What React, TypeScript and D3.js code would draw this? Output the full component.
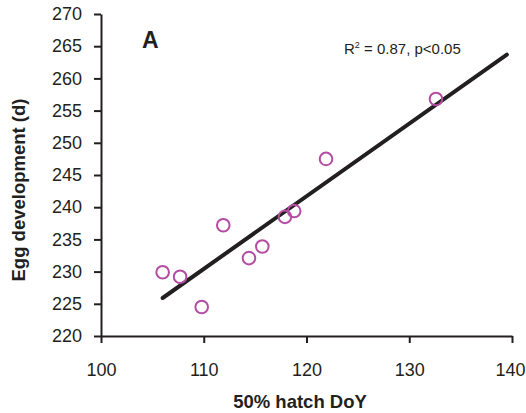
import { useEffect, useRef } from "react";
import * as d3 from "d3";

// hatch day-of-year vs egg development time
const hatchDoY = [106.0, 107.7, 109.8, 111.9, 114.4, 115.7, 117.9, 118.8, 121.9, 132.6];
const eggDev = [229.9, 229.2, 224.5, 237.2, 232.1, 233.9, 238.5, 239.4, 247.5, 256.8];

// fitted regression line end points
const fitX = [106.0, 139.5];
const fitY = [225.9, 263.7];

const xTicks = [100, 110, 120, 130, 140];
const yTicks = [220, 225, 230, 235, 240, 245, 250, 255, 260, 265, 270];

const width = 526;
const height = 413;
const ink = "#231f20";
const font = "'Liberation Sans', Arial, sans-serif";

export default function App() {
  const ref = useRef<SVGSVGElement>(null);

  useEffect(() => {
    const svg = d3.select(ref.current);
    svg.selectAll("*").remove();

    const x = d3.scaleLinear().domain([100, 140]).range([101, 512]);
    const y = d3.scaleLinear().domain([220, 270]).range([336, 14]);

    const xAxis = svg.append("g")
      .attr("transform", `translate(0,${y(220)})`)
      .call(d3.axisBottom(x).tickValues(xTicks).tickSize(7).tickSizeOuter(0).tickPadding(20));
    const yAxis = svg.append("g")
      .attr("transform", `translate(${x(100)},0)`)
      .call(d3.axisLeft(y).tickValues(yTicks).tickSize(7).tickSizeOuter(0).tickPadding(12));

    [xAxis, yAxis].forEach(g => {
      g.selectAll("path, line").attr("stroke", ink).attr("stroke-width", 2);
      g.selectAll("text")
        .attr("fill", ink)
        .style("font-family", font)
        .style("font-size", "18px");
    });

    // keep the last x label inside the page
    xAxis.selectAll<SVGTextElement, number>("text")
      .filter(d => d === 140)
      .attr("text-anchor", "end")
      .attr("x", width - 1 - x(140));

    // regression line
    const line = d3.line<number>()
      .x(d => x(fitX[d]))
      .y(d => y(fitY[d]));
    svg.append("path")
      .attr("d", line([0, 1]))
      .attr("fill", "none")
      .attr("stroke", ink)
      .attr("stroke-width", 4)
      .attr("stroke-linecap", "round");

    // points
    svg.selectAll("circle")
      .data(hatchDoY)
      .enter().append("circle")
      .attr("cx", d => x(d))
      .attr("cy", (_, i) => y(eggDev[i]))
      .attr("r", 6.3)
      .attr("fill", "none")
      .attr("stroke", "#b44ca3")
      .attr("stroke-width", 2);

    // panel label
    svg.append("text")
      .attr("x", 142)
      .attr("y", 48)
      .attr("fill", ink)
      .style("font-family", font)
      .style("font-weight", "bold")
      .style("font-size", "23px")
      .text("A");

    // statistics annotation
    const stat = svg.append("text")
      .attr("x", 344)
      .attr("y", 54)
      .attr("fill", ink)
      .style("font-family", font)
      .style("font-size", "15px");
    stat.append("tspan").text("R");
    stat.append("tspan").attr("dy", -6).style("font-size", "9px").text("2");
    stat.append("tspan").attr("dy", 6).text(" = 0.87, p<0.05");

    // axis titles
    svg.append("text")
      .attr("x", 300)
      .attr("y", 408)
      .attr("text-anchor", "middle")
      .attr("fill", ink)
      .style("font-family", font)
      .style("font-weight", "bold")
      .style("font-size", "18.5px")
      .text("50% hatch DoY");

    svg.append("text")
      .attr("transform", "translate(25,190) rotate(-90)")
      .attr("text-anchor", "middle")
      .attr("fill", ink)
      .style("font-family", font)
      .style("font-weight", "bold")
      .style("font-size", "18.5px")
      .text("Egg development (d)");
  }, []);

  return (
    <svg
      ref={ref}
      width={width}
      height={height}
      style={{ position: "absolute", left: 0, top: 0, background: "#fff" }}
    />
  );
}
